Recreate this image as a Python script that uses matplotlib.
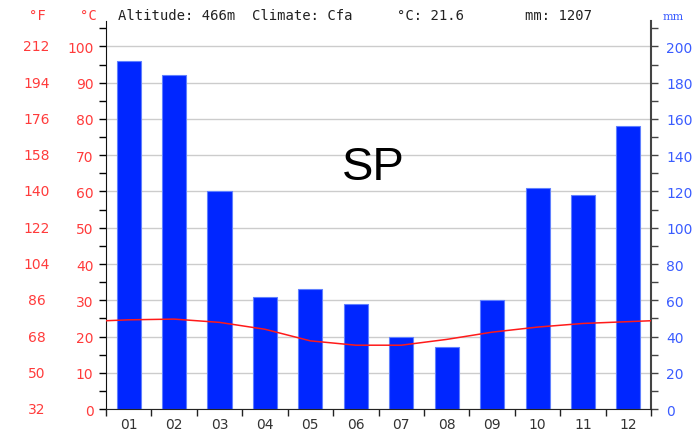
import matplotlib.pyplot as plt
import numpy as np
from matplotlib.ticker import MultipleLocator
from matplotlib.transforms import blended_transform_factory

# dados do climograma
meses = ["01", "02", "03", "04", "05", "06", "07", "08", "09", "10", "11", "12"]
precip_mm = [192, 184, 120, 62, 66, 58, 40, 34, 60, 122, 118, 156]
temp_c = [24.6, 24.8, 23.9, 22.0, 18.8, 17.6, 17.6, 19.2, 21.2, 22.6, 23.6, 24.1]
ticks_c = [0, 10, 20, 30, 40, 50, 60, 70, 80, 90, 100]
ticks_f = [32, 50, 68, 86, 104, 122, 140, 158, 176, 194, 212]
ticks_mm = [0, 20, 40, 60, 80, 100, 120, 140, 160, 180, 200]
estacao = "SP"
altitude = "466m"
clima = "Cfa"
media_c = "21.6"
total_mm = "1207"

VERMELHO = "#ff3b3b"
AZUL_TXT = "#3a5cff"
AZUL_BARRA = "#0026ff"

fig = plt.figure(figsize=(6.92, 4.31), dpi=100)
ax = fig.add_axes([0.153, 0.0487, 0.788, 0.900])
ax2 = ax.twinx()

x = np.arange(1, 13)

# barras de precipitacao (eixo da direita, mm = 2 x °C)
ax2.bar(x, precip_mm, width=0.53, color=AZUL_BARRA, edgecolor="#6080ff",
        linewidth=0.8, zorder=2)
ax2.set_ylim(0, 214)
ax2.set_yticks(ticks_mm)
ax2.yaxis.set_minor_locator(MultipleLocator(10))

# linha da temperatura, com as pontas ligadas Dez/Jan
borda = (temp_c[0] + temp_c[-1]) / 2
xt = np.concatenate([[0.5], x, [12.5]])
yt = np.concatenate([[borda], temp_c, [borda]])
ax.set_zorder(ax2.get_zorder() + 1)
ax.patch.set_visible(False)
ax.plot(xt, yt, color="#ff1a1a", linewidth=1.1, zorder=5)

ax.set_ylim(0, 107)
ax.set_xlim(0.5, 12.5)
ax.set_yticks(ticks_c)
ax.yaxis.set_minor_locator(MultipleLocator(5))

# grelha horizontal
for v in ticks_c:
    ax2.axhline(v * 2, color="#cccccc", linewidth=1.0, zorder=1)

# eixo x: marcas entre as barras, rótulos ao centro
ax.set_xticks(np.arange(0.5, 13, 1))
ax.set_xticklabels([])
ax.set_xticks(x, minor=True)
ax.set_xticklabels(meses, minor=True, fontsize=10, color="#333333")
ax.tick_params(axis="x", which="major", direction="out", length=5, width=1, color="#222222")
ax.tick_params(axis="x", which="minor", length=0, pad=6)

ax.tick_params(axis="y", which="major", direction="out", length=5, width=1,
               labelcolor=VERMELHO, labelsize=10, pad=4)
ax.tick_params(axis="y", which="minor", direction="out", length=5, width=1)
ax2.tick_params(axis="y", which="major", direction="out", length=5, width=1,
                labelcolor=AZUL_TXT, labelsize=10, color="#444444", pad=6)
ax2.tick_params(axis="y", which="minor", direction="out", length=5, width=1, color="#444444")

for a in (ax, ax2):
    a.spines["top"].set_visible(False)
ax.spines["left"].set_color("#111111")
ax.spines["bottom"].set_color("#222222")
ax.spines["right"].set_visible(False)
ax2.spines["left"].set_visible(False)
ax2.spines["bottom"].set_visible(False)
ax2.spines["right"].set_color("#444444")
ax2.spines["right"].set_linewidth(1.5)

# coluna Fahrenheit
tr = blended_transform_factory(ax.transAxes, ax.transData)
for c, f in zip(ticks_c, ticks_f):
    ax.text(-0.127, c, str(f), transform=tr, ha="center", va="center",
            color=VERMELHO, fontsize=10)

# cabeçalho
mono = "DejaVu Sans Mono"
fig.text(37 / 692, 1 - 16 / 431, "°F", ha="center", va="center", color=VERMELHO,
         family=mono, fontsize=10)
fig.text(88 / 692, 1 - 16 / 431, "°C", ha="center", va="center", color=VERMELHO,
         family=mono, fontsize=10)
fig.text(118 / 692, 1 - 16 / 431, f"Altitude: {altitude}  Climate: {clima}",
         ha="left", va="center", color="#222222", family=mono, fontsize=10)
fig.text(397 / 692, 1 - 16 / 431, f"°C: {media_c}", ha="left", va="center",
         color="#222222", family=mono, fontsize=10)
fig.text(525 / 692, 1 - 16 / 431, f"mm: {total_mm}", ha="left", va="center",
         color="#222222", family=mono, fontsize=10)
fig.text(673 / 692, 1 - 17 / 431, "mm", ha="center", va="center", color=AZUL_TXT,
         family="DejaVu Serif", fontsize=8)

fig.text(373 / 692, 1 - 168 / 431, estacao, ha="center", va="center",
         family="Liberation Sans", fontsize=34, color="black")

fig.savefig("out.png", dpi=100)
